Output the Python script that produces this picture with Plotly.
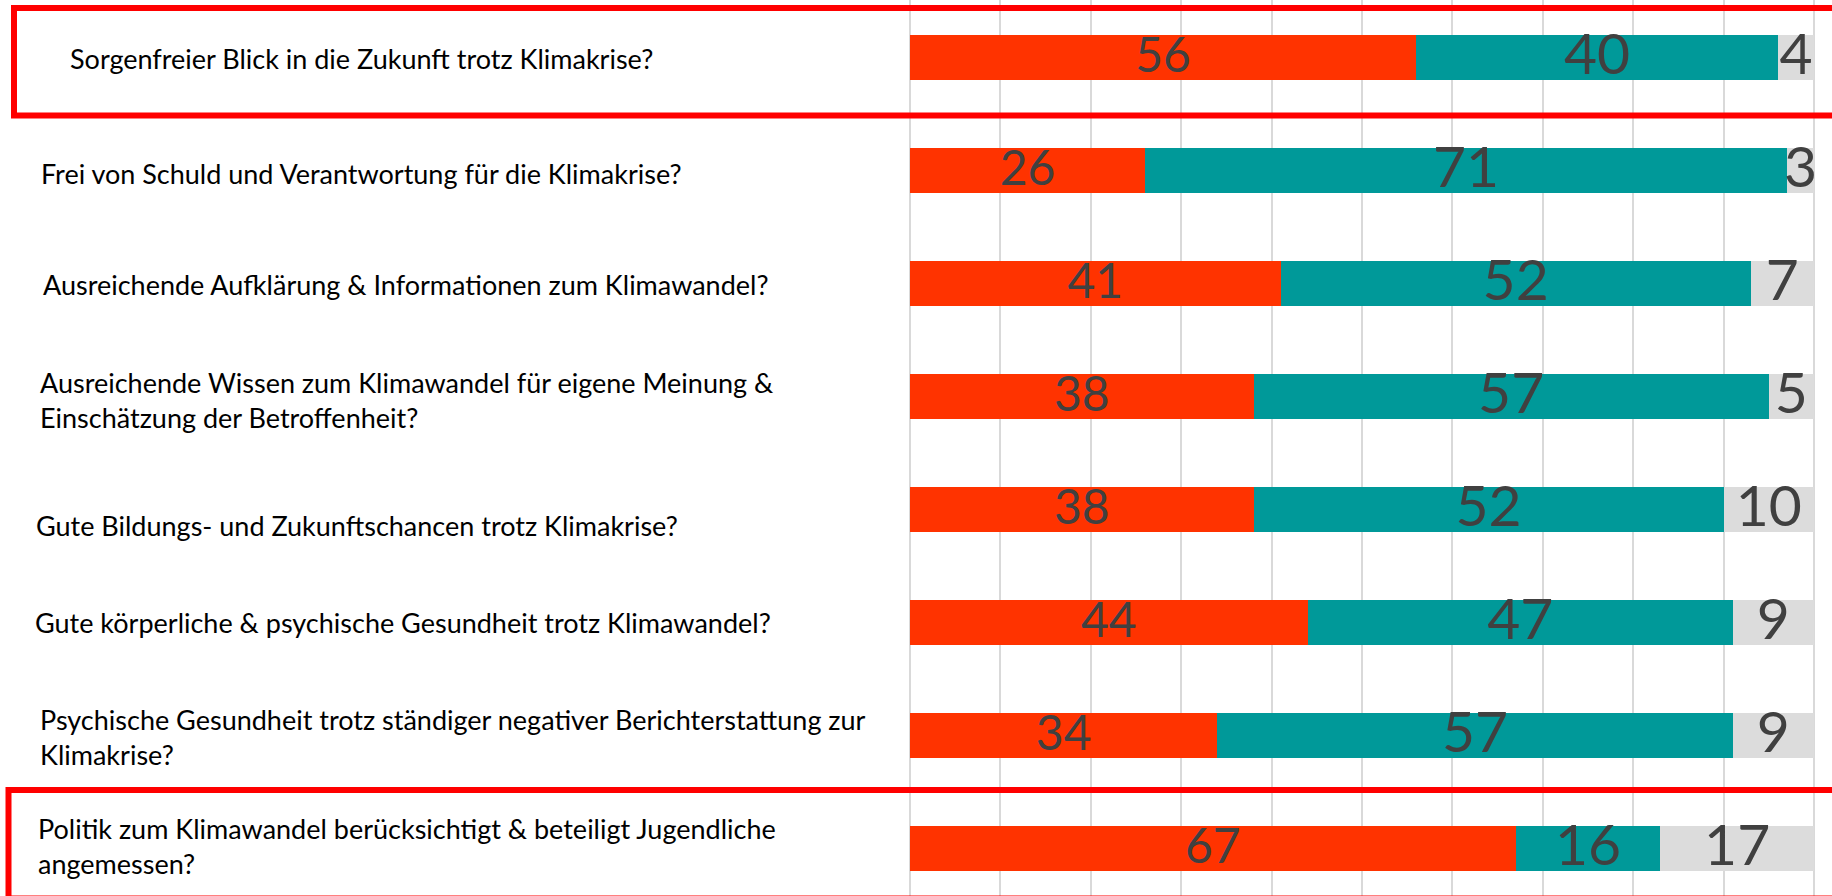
import plotly.graph_objects as go

# ---- data ----
questions = [
    "Sorgenfreier Blick in die Zukunft trotz Klimakrise?",
    "Frei von Schuld und Verantwortung für die Klimakrise?",
    "Ausreichende Aufklärung & Informationen zum Klimawandel?",
    "Ausreichende Wissen zum Klimawandel für eigene Meinung &<br>Einschätzung der Betroffenheit?",
    "Gute Bildungs- und Zukunftschancen trotz Klimakrise?",
    "Gute körperliche & psychische Gesundheit trotz Klimawandel?",
    "Psychische Gesundheit trotz ständiger negativer Berichterstattung zur<br>Klimakrise?",
    "Politik zum Klimawandel berücksichtigt & beteiligt Jugendliche<br>angemessen?",
]
nein = [56, 26, 41, 38, 38, 44, 34, 67]
ja = [40, 71, 52, 57, 52, 47, 57, 16]
weiss_nicht = [4, 3, 7, 5, 10, 9, 9, 17]
x_ticks = [0, 10, 20, 30, 40, 50, 60, 70, 80, 90, 100]

# ---- layout / style (pixels) ----
W, H = 1832, 896
X0_PX, X100_PX = 910, 1814
ROW0_PX, ROW_STEP = 57.5, 113.0
BAR_PX = 45
label_x_px = [68, 39, 41, 38, 34, 33, 38, 36]
label_yshift = [-1, -3, -1, -3, -16, 0, -1, 3]

RED = "#FF3300"
TEAL = "#009999"
GREY = "#DCDCDC"
TXT = "#404040"

ypos = list(range(len(questions)))
px_per_unit = (X100_PX - X0_PX) / 100.0
x_range = [-X0_PX / px_per_unit, (W - X0_PX) / px_per_unit]
y_range = [(H - ROW0_PX) / ROW_STEP, -ROW0_PX / ROW_STEP]
bar_width = BAR_PX / ROW_STEP

fig = go.Figure()
series = [("Nein", nein, RED), ("Ja", ja, TEAL), ("Weiß nicht", weiss_nicht, GREY)]
for name, vals, col in series:
    fig.add_trace(go.Bar(
        name=name, y=ypos, x=vals, orientation="h", width=bar_width,
        marker=dict(color=col, line=dict(width=0)),
        hoverinfo="x+name", showlegend=False,
    ))

# value labels placed at segment midpoints
cum = [0] * len(questions)
label_sizes = [48, 57, 57]
for (name, vals, col), fs in zip(series, label_sizes):
    mids = [c + v / 2 for c, v in zip(cum, vals)]
    cum = [c + v for c, v in zip(cum, vals)]
    fig.add_trace(go.Scatter(
        x=mids, y=[y + 0.02 for y in ypos], mode="text",
        text=[str(v) for v in vals],
        textposition="middle center",
        textfont=dict(family="Lato", size=fs, color=TXT),
        cliponaxis=False, showlegend=False, hoverinfo="skip",
    ))

# question labels
for i, q in enumerate(questions):
    fig.add_annotation(
        x=label_x_px[i] / W, xref="paper", y=ypos[i], yref="y",
        yshift=label_yshift[i],
        text=q, showarrow=False, xanchor="left", yanchor="middle", align="left",
        font=dict(family="Lato", size=27, color="#000000"),
    )

# red highlight boxes
fig.add_shape(type="rect", xref="paper", yref="paper",
              x0=14 / W, x1=1845 / W, y0=1 - 8 / H, y1=1 - 115.5 / H,
              line=dict(color="#FF0000", width=6), layer="above")
fig.add_shape(type="rect", xref="paper", yref="paper",
              x0=8.5 / W, x1=1845 / W, y0=1 - 790 / H, y1=1 - 898.5 / H,
              line=dict(color="#FF0000", width=6), layer="above")

fig.update_layout(
    width=W, height=H, barmode="stack",
    margin=dict(l=0, r=0, t=0, b=0),
    paper_bgcolor="white", plot_bgcolor="white",
    xaxis=dict(range=x_range, tickvals=x_ticks, showticklabels=False,
               showgrid=True, gridcolor="#D9D9D9", gridwidth=1.5,
               zeroline=False, showline=False, fixedrange=True),
    yaxis=dict(range=y_range, showticklabels=False, showgrid=False,
               zeroline=False, showline=False, fixedrange=True),
)

fig.write_html(
    "out.html",
    config={"displayModeBar": False},
    post_script="document.body.style.margin='0px';document.body.style.overflow='hidden';",
)
